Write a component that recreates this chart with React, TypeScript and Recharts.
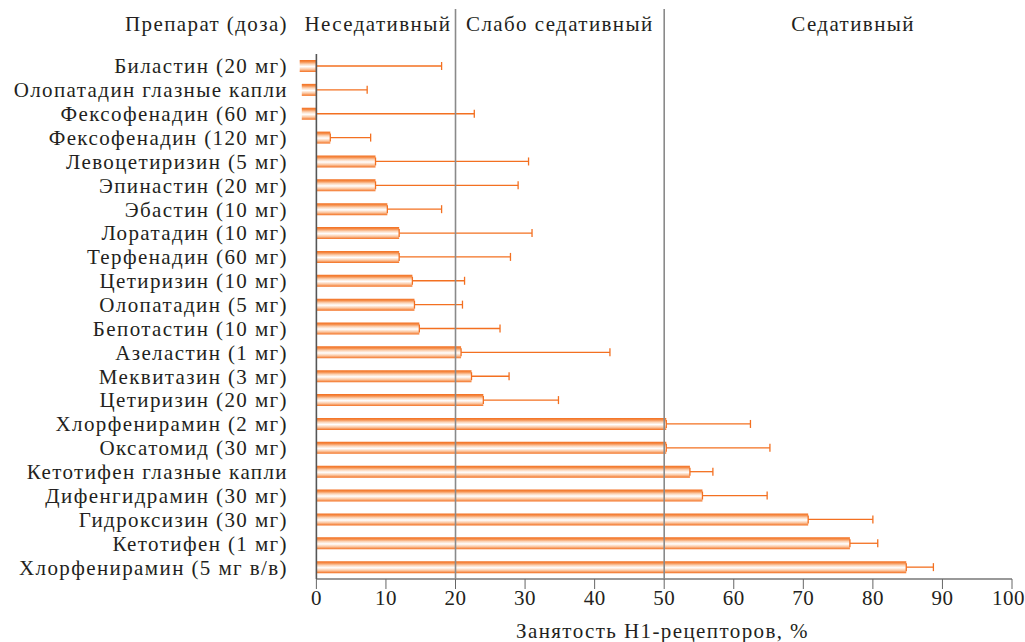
import React from "react";
import {
  Bar,
  BarChart,
  ErrorBar,
  ReferenceArea,
  ReferenceLine,
  XAxis,
  YAxis,
} from "recharts";

const drugs = [
  "Биластин (20 мг)",
  "Олопатадин глазные капли",
  "Фексофенадин (60 мг)",
  "Фексофенадин (120 мг)",
  "Левоцетиризин (5 мг)",
  "Эпинастин (20 мг)",
  "Эбастин (10 мг)",
  "Лоратадин (10 мг)",
  "Терфенадин (60 мг)",
  "Цетиризин (10 мг)",
  "Олопатадин (5 мг)",
  "Бепотастин (10 мг)",
  "Азеластин (1 мг)",
  "Меквитазин (3 мг)",
  "Цетиризин (20 мг)",
  "Хлорфенирамин (2 мг)",
  "Оксатомид (30 мг)",
  "Кетотифен глазные капли",
  "Дифенгидрамин (30 мг)",
  "Гидроксизин (30 мг)",
  "Кетотифен (1 мг)",
  "Хлорфенирамин (5 мг в/в)",
];

// средняя занятость, %
const occupancy = [
  -2.4, -2.1, -2.1, 2.0, 8.5, 8.5, 10.2, 11.9, 11.9, 13.8, 14.1, 14.8, 20.8,
  22.3, 24.0, 50.3, 50.3, 53.7, 55.5, 70.7, 76.7, 84.8,
];

// верхняя граница разброса, %
const upperBound = [
  18.0, 7.3, 22.7, 7.8, 30.5, 29.0, 18.0, 31.0, 27.9, 21.3, 21.0, 26.4, 42.2,
  27.7, 34.8, 62.4, 65.2, 57.0, 64.8, 80.0, 80.7, 88.7,
];

const xTicks = [0, 10, 20, 30, 40, 50, 60, 70, 80, 90, 100];

const zoneNames = ["Неседативный", "Слабо седативный", "Седативный"];
const zoneBounds = [0, 20, 50, 100];
// небольшой сдвиг подписей зон, как в оригинале
const zoneLabelDx = [-8, 0, 15];

const data = drugs.map((name, i) => ({
  name,
  value: occupancy[i],
  // ус рисуется от конца столбика (или от нуля) до верхней границы
  err: [occupancy[i] < 0 ? occupancy[i] : 0, upperBound[i] - occupancy[i]],
}));

const FONT = '"Liberation Serif", "DejaVu Serif", serif';
const TEXT = "#231f20";
const ORANGE = "#f37021";
const FS = 21;
const LS = 1.4;

function TallLine(props: any) {
  const top = Math.min(props.y1, props.y2) - 45;
  const bottom = Math.max(props.y1, props.y2);
  return (
    <line
      x1={props.x1}
      x2={props.x2}
      y1={top}
      y2={bottom}
      stroke="#8a8a8a"
      strokeWidth={1.6}
    />
  );
}

// нижняя ось только от 0 до 100
function BottomAxisLine(props: any) {
  const y = props.y + props.height;
  return (
    <line
      x1={props.x}
      x2={props.x + props.width}
      y1={y}
      y2={y}
      stroke="#777"
      strokeWidth={1.4}
    />
  );
}

export default function App() {
  return (
    <div style={{ width: 1025, height: 642, background: "#fff" }}>
      <style>{`body{margin:0;overflow:hidden}`}</style>
      <BarChart
        width={1025}
        height={642}
        data={data}
        layout="vertical"
        barSize={12}
        margin={{ top: 54, right: 13, left: 0, bottom: 23 }}
        style={{ fontFamily: FONT }}
      >
        <defs>
          <linearGradient id="barStripes" x1="0" x2="0" y1="0" y2="1">
            <stop offset="0%" stopColor={ORANGE} />
            <stop offset="15%" stopColor="#f58a45" />
            <stop offset="35%" stopColor="#fbd3b5" />
            <stop offset="55%" stopColor="#ffffff" />
            <stop offset="78%" stopColor="#fbc6a0" />
            <stop offset="100%" stopColor={ORANGE} />
          </linearGradient>
        </defs>
        <XAxis
          type="number"
          domain={[-2.5, 100]}
          ticks={xTicks}
          allowDataOverflow
          axisLine={false}
          height={40}
          tickSize={10}
          tickMargin={1}
          stroke="#666"
          tick={{ fill: TEXT, fontSize: FS, fontFamily: FONT, letterSpacing: 0.5 }}
          label={{
            content: (p: any) => (
              <text
                x={p.viewBox.x + p.viewBox.width / 2 + 7}
                y={p.viewBox.y + p.viewBox.height + 19}
                textAnchor="middle"
                fill={TEXT}
                fontSize={FS}
                fontFamily={FONT}
                letterSpacing={LS}
              >
                Занятость Н1-рецепторов, %
              </text>
            ),
          }}
        />
        <YAxis
          type="category"
          dataKey="name"
          width={299}
          axisLine={false}
          tickLine={false}
          tickMargin={5}
          interval={0}
          tick={{ fill: TEXT, fontSize: FS, fontFamily: FONT, letterSpacing: LS }}
          label={{
            content: (p: any) => (
              <text
                x={p.viewBox.x + p.viewBox.width - 11}
                y={31}
                textAnchor="end"
                fill={TEXT}
                fontSize={FS}
                fontFamily={FONT}
                letterSpacing={LS}
              >
                Препарат (доза)
              </text>
            ),
          }}
        />
        <ReferenceArea x1={0} x2={100} shape={BottomAxisLine} />
        {zoneNames.map((name, i) => (
          <ReferenceArea
            key={name}
            x1={zoneBounds[i]}
            x2={zoneBounds[i + 1]}
            fillOpacity={0}
            strokeOpacity={0}
            label={{
              value: name,
              position: "top",
              offset: 23,
              dx: zoneLabelDx[i],
              fill: TEXT,
              fontSize: FS,
              fontFamily: FONT,
              letterSpacing: LS,
            }}
          />
        ))}
        <Bar dataKey="value" fill="url(#barStripes)" isAnimationActive={false}>
          <ErrorBar
            dataKey="err"
            direction="x"
            width={4}
            stroke={ORANGE}
            strokeWidth={1.3}
            isAnimationActive={false}
          />
        </Bar>
        <ReferenceLine x={0} stroke="#555" strokeWidth={1.6} />
        <ReferenceLine x={20} shape={TallLine} />
        <ReferenceLine x={50} shape={TallLine} />
      </BarChart>
    </div>
  );
}
